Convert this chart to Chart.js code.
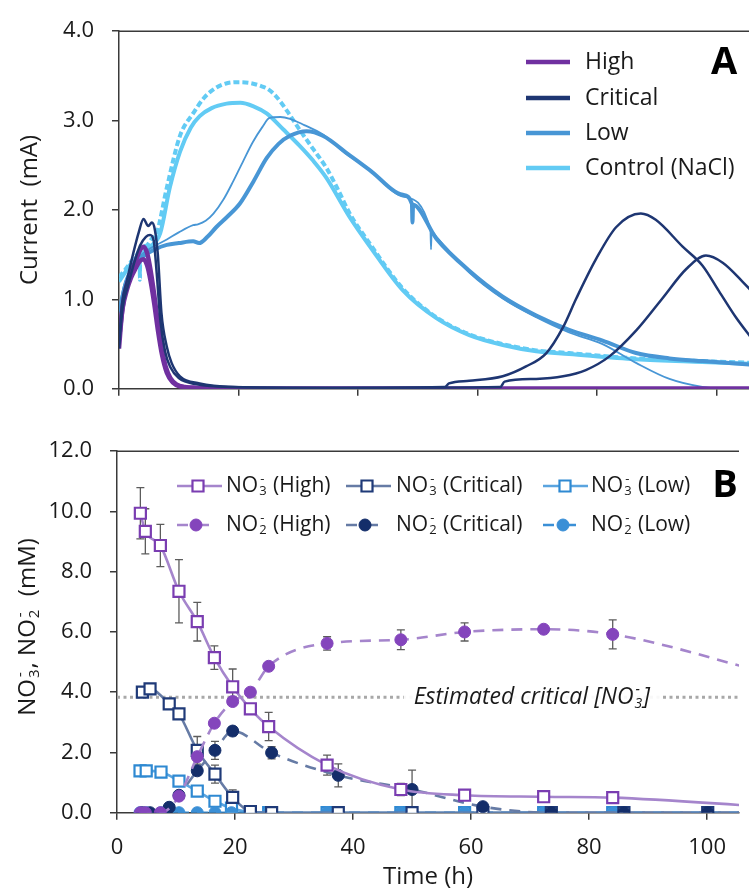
<!DOCTYPE html>
<html>
<head>
<meta charset="utf-8">
<title>Current and nitrate / nitrite over time</title>
<script src="https://cdn.jsdelivr.net/npm/chart.js"></script>
<style>
  html, body { margin: 0; padding: 0; background: #fff; }
  #wrap { position: relative; width: 749px; height: 892px; }
  canvas { position: absolute; left: 0; }
  #chartA { top: 0; }
  #chartB { top: 420px; }
</style>
</head>
<body>
<div id="wrap">
  <canvas id="chartA" width="749" height="420"></canvas>
  <canvas id="chartB" width="749" height="472"></canvas>
</div>
<script>
// ---------------- DATA ----------------

const X_MAX = 105.4;
const xTicks = [0, 20, 40, 60, 80, 100];
const yTicksA = [0, 1, 2, 3, 4];
const yTicksB = [0, 2, 4, 6, 8, 10, 12];

// Panel A - current traces (h, mA), two replicates per condition
const highT1 = [0, 0.5, 1, 1.7, 2.4, 3, 3.6, 4.1, 4.7, 5.3, 5.9, 6.5, 7.1, 7.8, 8.6, 9.6, 11, 13, 20, 106];
const highA1 = [0.45, 0.85, 1.08, 1.25, 1.37, 1.47, 1.56, 1.59, 1.52, 1.32, 1.05, 0.74, 0.46, 0.25, 0.12, 0.05, 0.02, 0.01, 0, 0];
const highT2 = [0, 0.6, 1.3, 2, 2.8, 3.5, 4.1, 4.7, 5.3, 5.9, 6.5, 7.2, 8, 9, 10.5, 13, 20, 106];
const highA2 = [0.55, 0.9, 1.1, 1.24, 1.35, 1.43, 1.45, 1.38, 1.2, 0.95, 0.66, 0.38, 0.18, 0.07, 0.02, 0.01, 0, 0];

const critT1 = [0, 0.5, 1.3, 2.4, 3.3, 4.1, 4.9, 5.5, 6, 6.5, 7.1, 8, 8.8, 10.2, 13.5, 19, 30, 54.5, 55.2, 58.6, 64.2, 68.1, 71.5, 74.3, 76.5, 79.8, 83.2, 87.3, 89.8, 94.3, 97.6, 100.4, 103.2, 106];
const critA1 = [0.5, 0.95, 1.2, 1.52, 1.75, 1.9, 1.82, 1.86, 1.78, 1.5, 0.85, 0.47, 0.29, 0.14, 0.06, 0.02, 0.01, 0.02, 0.06, 0.09, 0.14, 0.25, 0.4, 0.69, 1.01, 1.45, 1.81, 1.96, 1.89, 1.59, 1.38, 1.09, 0.8, 0.55];
const critT2 = [0, 0.6, 1.5, 2.5, 3.5, 4.5, 5.2, 5.8, 6.3, 6.9, 7.7, 8.6, 10, 13, 19, 40, 63.8, 64.5, 69.8, 74.3, 78.1, 82, 86.5, 90.9, 94.9, 98.2, 101, 104.3, 106];
const critA2 = [0.45, 0.9, 1.15, 1.4, 1.6, 1.7, 1.72, 1.66, 1.3, 0.78, 0.42, 0.24, 0.12, 0.05, 0.02, 0.01, 0.02, 0.08, 0.11, 0.14, 0.21, 0.36, 0.65, 1.01, 1.34, 1.49, 1.41, 1.2, 1.08];

const lowT1 = [0, 1, 2, 3, 4.1, 6, 8, 10, 12.4, 13.2, 14.5, 15.8, 17.5, 19.1, 20.8, 22.4, 24, 25.2, 27, 28.6, 31, 34, 38, 41.9, 47.5, 52.1, 52.2, 52.3, 53.1, 58.6, 64.2, 69.8, 75.3, 80.9, 86.5, 92.1, 97.6, 101, 106];
const lowA1 = [0.9, 1.2, 1.35, 1.45, 1.52, 1.6, 1.67, 1.75, 1.83, 1.84, 1.88, 1.96, 2.12, 2.32, 2.55, 2.76, 2.93, 3.03, 3.04, 3.02, 2.95, 2.85, 2.63, 2.45, 2.15, 1.78, 1.56, 1.76, 1.7, 1.3, 1.01, 0.8, 0.63, 0.5, 0.29, 0.11, 0.02, 0, 0];
const lowT2 = [0, 1, 2, 3, 4, 6, 8, 10, 12.4, 13.4, 14.8, 16.3, 18.2, 20.2, 22.5, 24.7, 26.7, 28.6, 31.4, 34.1, 38.6, 41.9, 47.5, 49, 49.1, 49.2, 53.1, 58.6, 64.2, 69.8, 75.3, 80.9, 86.5, 92.1, 97.6, 106];
const lowA2 = [0.85, 1.15, 1.3, 1.4, 1.48, 1.56, 1.61, 1.63, 1.65, 1.63, 1.7, 1.81, 1.93, 2.07, 2.32, 2.58, 2.74, 2.83, 2.88, 2.83, 2.61, 2.45, 2.17, 2.07, 1.86, 2.06, 1.68, 1.32, 1.03, 0.82, 0.66, 0.54, 0.4, 0.34, 0.31, 0.27];

const ctrlT1 = [0, 1, 2, 3, 3.45, 3.5, 3.55, 4.5, 5.5, 6.3, 8, 10.2, 12.4, 14.3, 16.3, 18.2, 20.2, 22, 23.6, 25, 26.3, 28.2, 30.2, 32.5, 34.7, 36.7, 38.6, 41.9, 47.5, 53.1, 58.6, 64.2, 69.8, 75.3, 86.5, 97.6, 106];
const ctrlA1 = [1.25, 1.33, 1.42, 1.5, 1.55, 1.22, 1.55, 1.6, 1.68, 1.74, 2.25, 2.83, 3.08, 3.26, 3.37, 3.42, 3.43, 3.42, 3.39, 3.35, 3.27, 3.1, 2.9, 2.68, 2.47, 2.22, 1.96, 1.63, 1.12, 0.8, 0.61, 0.5, 0.43, 0.4, 0.34, 0.31, 0.29];
const ctrlT2 = [0, 1, 2, 3, 4, 5, 6.9, 8.5, 10.2, 12, 13.5, 15.5, 18, 20.3, 22.5, 24.7, 27.5, 30.2, 32.5, 34.7, 38.6, 41.9, 47.5, 53.1, 58.6, 64.2, 69.8, 75.3, 86.5, 97.6, 106];
const ctrlA2 = [1.2, 1.3, 1.4, 1.48, 1.52, 1.58, 1.74, 2.25, 2.65, 2.92, 3.05, 3.14, 3.19, 3.2, 3.16, 3.08, 2.9, 2.72, 2.55, 2.36, 1.92, 1.6, 1.1, 0.79, 0.6, 0.49, 0.42, 0.39, 0.33, 0.3, 0.28];

// Panel B - sampled concentrations (h, mM) with standard deviations
const highT = [3.96, 4.8, 7.35, 10.5, 13.6, 16.5, 19.6, 22.6, 25.7, 35.6, 48.1, 58.9, 72.3, 84.0, 110];
const no3High = [9.94, 9.34, 8.87, 7.35, 6.34, 5.15, 4.18, 3.45, 2.86, 1.58, 0.77, 0.58, 0.53, 0.5, 0.2];
const no3HighErr = [0.85, 0.75, 0.7, 1.05, 0.64, 0.39, 0.59, 0, 0.47, 0.33, 0.2, 0, 0, 0.05, 0];
const no2High = [0, 0, 0, 0.55, 1.86, 2.97, 3.69, 4.0, 4.86, 5.62, 5.74, 6.0, 6.09, 5.92, 4.65];
const no2HighErr = [0, 0, 0, 0, 0.1, 0.12, 0.12, 0, 0.1, 0.22, 0.33, 0.3, 0.08, 0.48, 0];

const critT = [4.3, 5.6, 8.85, 10.5, 13.6, 16.6, 19.6, 22.6, 26.2, 37.5, 50.0, 62.0, 73.6, 85.9, 100.1, 110];
const no3Crit = [4.0, 4.11, 3.61, 3.28, 2.07, 1.28, 0.51, 0.04, 0, 0, 0, 0, 0, 0, 0, 0];
const no3CritErr = [0, 0, 0, 0, 0.46, 0.3, 0.25, 0, 0, 0, 0, 0, 0, 0, 0, 0];
const no2Crit = [0, 0, 0.18, 0.58, 1.39, 2.07, 2.71, null, 1.99, 1.24, 0.77, 0.2, 0, 0, 0, 0];
const no2CritErr = [0, 0, 0, 0.1, 0.15, 0.3, 0.15, 0, 0.2, 0.38, 0.64, 0, 0, 0, 0, 0];

const lowT = [3.9, 4.95, 7.46, 10.5, 13.6, 16.6, 19.4, 22.6, 25.7, 35.6, 48.1, 58.9, 72.3, 84.0, 110];
const no3Low = [1.39, 1.39, 1.35, 1.05, 0.72, 0.38, 0.15, 0.02, 0, 0, 0, 0, 0, 0, 0];
const no3LowErr = [0, 0, 0, 0.1, 0.08, 0.18, 0.1, 0, 0, 0, 0, 0, 0, 0, 0];
const no2Low = [0, 0, 0, 0, 0, 0, 0, 0, 0, 0, 0, 0, 0, 0, 0];

const critLevel = 3.83;   // estimated critical nitrate
const critSpan = [0, 110];

// ---------------- STYLE ----------------

const FONT = "'Open Sans', 'Noto Sans', sans-serif";
const TXT = '#1a1a1a';
const AXIS = '#3a3a3a';

const C_HIGH = '#7030A0';
const C_CRIT = '#1E3672';
const C_LOW = '#4896D5';
const C_CTRL = '#62CBF4';

const pts = (ts, vs) => ts.map((t, i) => ({ x: t, y: vs[i] }));

function trace(label, ts, vs, color, width, dash) {
  return {
    label, data: pts(ts, vs),
    borderColor: color, borderWidth: width, borderDash: dash || [],
    borderJoinStyle: 'round', pointRadius: 0,
    cubicInterpolationMode: 'monotone', fill: false
  };
}

function xScale(showLabels, height, title) {
  return {
    type: 'linear', min: 0, max: X_MAX,
    afterBuildTicks: ax => { ax.ticks = xTicks.map(v => ({ value: v })); },
    afterFit: ax => { ax.height = height; },
    grid: { drawOnChartArea: false, drawTicks: true, tickLength: 7, color: AXIS, lineWidth: 1.5 },
    border: { color: AXIS, width: 1.5 },
    ticks: { display: showLabels, padding: 15, color: TXT, font: { family: FONT, size: 22 } },
    title: title ? { display: true, text: title, color: TXT, font: { family: FONT, size: 24 }, padding: { top: 0, bottom: 0 } } : { display: false }
  };
}

function yScale(max, ticks, width, title) {
  return {
    type: 'linear', min: 0, max,
    afterBuildTicks: ax => { ax.ticks = ticks.map(v => ({ value: v })); },
    afterFit: ax => { ax.width = width; },
    grid: { drawOnChartArea: false, drawTicks: true, tickLength: 7, color: AXIS, lineWidth: 1.5 },
    border: { color: AXIS, width: 1.5 },
    ticks: { padding: 18, color: TXT, font: { family: FONT, size: 22 }, callback: v => Number(v).toFixed(1) },
    title: title ? { display: true, text: title, color: TXT, font: { family: FONT, size: 24 }, padding: { top: 16, bottom: 0 } } : { display: false }
  };
}

// text with stacked sub/superscripts, e.g. NO3-
function richRun(ctx, parts, x, y, size, style, draw) {
  let cx = x;
  for (const p of parts) {
    if (p.t !== undefined) {
      ctx.font = `${style} ${size}px ${FONT}`;
      if (draw) ctx.fillText(p.t, cx, y);
      cx += ctx.measureText(p.t).width;
    } else {
      const s = Math.round(size * 0.62);
      ctx.font = `${style} ${s}px ${FONT}`;
      const w1 = ctx.measureText(p.sub || '').width;
      const w2 = ctx.measureText(p.sup || '').width;
      if (draw) {
        if (p.sub) ctx.fillText(p.sub, cx + 1, y + size * 0.27);
        if (p.sup) ctx.fillText(p.sup, cx + 2, y - size * 0.3);
      }
      cx += Math.max(w1, w2) + 2;
    }
  }
  return cx - x;
}

function topBorder(chart) {
  const { ctx, chartArea: a } = chart;
  ctx.save();
  ctx.strokeStyle = AXIS;
  ctx.lineWidth = 1.5;
  ctx.beginPath();
  ctx.moveTo(a.left, a.top);
  ctx.lineTo(a.right, a.top);
  ctx.stroke();
  ctx.restore();
}

function panelLetter(ctx, letter, x, y) {
  ctx.save();
  ctx.fillStyle = '#000';
  ctx.font = `bold 38px ${FONT}`;
  ctx.textAlign = 'center';
  ctx.textBaseline = 'middle';
  ctx.fillText(letter, x, y);
  ctx.restore();
}

// ---------------- PANEL A ----------------

const legendA = [
  { label: 'High', color: C_HIGH },
  { label: 'Critical', color: C_CRIT },
  { label: 'Low', color: C_LOW },
  { label: 'Control (NaCl)', color: C_CTRL }
];

const panelAPlugin = {
  id: 'panelA',
  afterDraw(chart) {
    const ctx = chart.ctx;
    topBorder(chart);
    ctx.save();
    ctx.textBaseline = 'middle';
    ctx.font = `23px ${FONT}`;
    ctx.fillStyle = TXT;
    const rows = [62, 98, 133, 168];
    legendA.forEach((item, i) => {
      ctx.strokeStyle = item.color;
      ctx.lineWidth = 4.5;
      ctx.beginPath();
      ctx.moveTo(526, rows[i]);
      ctx.lineTo(570, rows[i]);
      ctx.stroke();
      ctx.fillText(item.label, 585, rows[i]);
    });
    ctx.restore();
    panelLetter(ctx, 'A', 724, 63);
  }
};

new Chart(document.getElementById('chartA'), {
  type: 'line',
  data: {
    datasets: [
      trace('Critical', critT1, critA1, C_CRIT, 2.5),
      trace('Critical', critT2, critA2, C_CRIT, 2.5),
      trace('High', highT1, highA1, C_HIGH, 4.5),
      trace('High', highT2, highA2, C_HIGH, 4.5),
      trace('Low', lowT1, lowA1, C_LOW, 1.8),
      trace('Low', lowT2, lowA2, C_LOW, 4),
      trace('Control (NaCl)', ctrlT1, ctrlA1, C_CTRL, 4, [6, 3]),
      trace('Control (NaCl)', ctrlT2, ctrlA2, C_CTRL, 4)
    ]
  },
  options: {
    responsive: false,
    animation: false,
    devicePixelRatio: 1,
    layout: { padding: { top: 26, right: 0, bottom: 0, left: 0 } },
    plugins: { legend: { display: false }, tooltip: { enabled: false } },
    scales: {
      x: xScale(false, 27),
      y: yScale(4, yTicksA, 119, 'Current  (mA)')
    }
  },
  plugins: [panelAPlugin]
});

// ---------------- PANEL B ----------------

function series(label, ts, vs, errs, o) {
  return {
    label, data: pts(ts, vs), errors: errs,
    borderColor: o.line, borderWidth: 2.6, borderDash: o.dash || [],
    pointStyle: o.style, pointRadius: o.r, pointHoverRadius: o.r,
    pointBorderWidth: o.bw, pointBorderColor: o.mark,
    pointBackgroundColor: o.fill,
    cubicInterpolationMode: 'monotone', spanGaps: true, fill: false
  };
}

const dsNo3High = series('NO3- (High)', highT, no3High, no3HighErr,
  { line: '#A585CC', mark: '#7A3DB1', fill: '#fff', style: 'rect', r: 7.8, bw: 2.2 });
const dsNo2High = series('NO2- (High)', highT, no2High, no2HighErr,
  { line: '#A585CC', mark: '#8445BC', fill: '#8445BC', style: 'circle', r: 6, bw: 1, dash: [11, 8] });
const dsNo3Crit = series('NO3- (Critical)', critT, no3Crit, no3CritErr,
  { line: '#667BA5', mark: '#1F3A78', fill: '#fff', style: 'rect', r: 7.8, bw: 2.2 });
const dsNo2Crit = series('NO2- (Critical)', critT, no2Crit, no2CritErr,
  { line: '#667BA5', mark: '#142E6A', fill: '#142E6A', style: 'circle', r: 6, bw: 1, dash: [11, 8] });
const dsNo3Low = series('NO3- (Low)', lowT, no3Low, no3LowErr,
  { line: '#5AA4DF', mark: '#2E89D2', fill: '#fff', style: 'rect', r: 7.8, bw: 2.2 });
const dsNo2Low = series('NO2- (Low)', lowT, no2Low, null,
  { line: '#3A8FD6', mark: '#3A8FD6', fill: '#3A8FD6', style: 'circle', r: 6, bw: 1, dash: [11, 8] });

const dsCritLine = {
  label: 'Estimated critical [NO3-]',
  data: critSpan.map(t => ({ x: t, y: critLevel })),
  borderColor: '#A8A8A8', borderWidth: 3, borderDash: [3, 3.5], pointRadius: 0, fill: false
};

const legendRowsB = [
  [
    { ds: dsNo3High, parts: [{ t: 'NO' }, { sub: '3', sup: '-' }, { t: ' (High)' }] },
    { ds: dsNo3Crit, parts: [{ t: 'NO' }, { sub: '3', sup: '-' }, { t: ' (Critical)' }] },
    { ds: dsNo3Low, parts: [{ t: 'NO' }, { sub: '3', sup: '-' }, { t: ' (Low)' }] }
  ],
  [
    { ds: dsNo2High, parts: [{ t: 'NO' }, { sub: '2', sup: '-' }, { t: ' (High)' }] },
    { ds: dsNo2Crit, parts: [{ t: 'NO' }, { sub: '2', sup: '-' }, { t: ' (Critical)' }] },
    { ds: dsNo2Low, parts: [{ t: 'NO' }, { sub: '2', sup: '-' }, { t: ' (Low)' }] }
  ]
];

function drawMarker(ctx, ds, x, y) {
  ctx.lineWidth = ds.pointBorderWidth;
  ctx.strokeStyle = ds.pointBorderColor;
  ctx.fillStyle = ds.pointBackgroundColor;
  ctx.beginPath();
  if (ds.pointStyle === 'rect') {
    const s = ds.pointRadius * Math.SQRT1_2;
    ctx.rect(x - s, y - s, 2 * s, 2 * s);
  } else {
    ctx.arc(x, y, ds.pointRadius, 0, Math.PI * 2);
  }
  ctx.fill();
  ctx.stroke();
}

const errorBars = {
  id: 'errorBars',
  beforeDatasetsDraw(chart) {
    const { ctx, chartArea: a, scales: { x, y } } = chart;
    ctx.save();
    ctx.beginPath();
    ctx.rect(a.left, a.top, a.right - a.left, a.bottom - a.top);
    ctx.clip();
    ctx.strokeStyle = '#5c5c5c';
    ctx.lineWidth = 1.3;
    chart.data.datasets.forEach(ds => {
      if (!ds.errors) return;
      ds.data.forEach((p, i) => {
        const e = ds.errors[i];
        if (!e || p.y == null) return;
        const px = x.getPixelForValue(p.x);
        const y1 = y.getPixelForValue(p.y + e);
        const y2 = y.getPixelForValue(p.y - e);
        ctx.beginPath();
        ctx.moveTo(px, y1); ctx.lineTo(px, y2);
        ctx.moveTo(px - 4, y1); ctx.lineTo(px + 4, y1);
        ctx.moveTo(px - 4, y2); ctx.lineTo(px + 4, y2);
        ctx.stroke();
      });
    });
    ctx.restore();
  }
};

const panelBPlugin = {
  id: 'panelB',
  afterDatasetsDraw(chart) {
    // label on the critical nitrate line
    const { ctx, scales: { x, y } } = chart;
    const parts = [{ t: 'Estimated critical [NO' }, { sub: '3', sup: '-' }, { t: ']' }];
    const cx = x.getPixelForValue(70.3);
    const cy = y.getPixelForValue(critLevel);
    ctx.save();
    ctx.textBaseline = 'middle';
    const w = richRun(ctx, parts, 0, 0, 23, 'italic', false);
    ctx.fillStyle = 'rgba(255,255,255,0.92)';
    ctx.fillRect(cx - w / 2 - 10, cy - 16, w + 22, 32);
    ctx.fillStyle = TXT;
    richRun(ctx, parts, cx - w / 2, cy, 23, 'italic', true);
    ctx.restore();
  },
  afterDraw(chart) {
    const { ctx, chartArea: a } = chart;
    topBorder(chart);

    // legend: line stub, marker, label
    const cols = [
      { x0: 177, x1: 222, mx: 198, tx: 226 },
      { x0: 346, x1: 391, mx: 367, tx: 396 },
      { x0: 543, x1: 588, mx: 565, tx: 591 }
    ];
    const rows = [66, 105];
    ctx.save();
    ctx.textBaseline = 'middle';
    legendRowsB.forEach((row, r) => {
      row.forEach((item, c) => {
        const col = cols[c], yy = rows[r], ds = item.ds;
        ctx.strokeStyle = ds.borderColor;
        ctx.lineWidth = 2.6;
        ctx.beginPath();
        if (ds.borderDash.length) {
          const mx = col.mx - 2;
          ctx.moveTo(col.x0, yy); ctx.lineTo(col.x0 + 11, yy);
          ctx.moveTo(mx, yy); ctx.lineTo(mx + 13, yy);
          ctx.stroke();
          drawMarker(ctx, ds, mx, yy);
        } else {
          ctx.moveTo(col.x0, yy); ctx.lineTo(col.x1, yy);
          ctx.stroke();
          drawMarker(ctx, ds, col.mx, yy);
        }
        ctx.fillStyle = TXT;
        richRun(ctx, item.parts, col.tx, yy, 21, 'normal', true);
      });
    });

    // rotated y title
    const title = [{ t: 'NO' }, { sub: '3', sup: '-' }, { t: ', NO' }, { sub: '2', sup: '-' }, { t: '  (mM)' }];
    const tw = richRun(ctx, title, 0, 0, 24, 'normal', false);
    ctx.translate(28, (a.top + a.bottom) / 2 - 5);
    ctx.rotate(-Math.PI / 2);
    ctx.fillStyle = TXT;
    richRun(ctx, title, -tw / 2, 0, 24, 'normal', true);
    ctx.restore();

    panelLetter(ctx, 'B', 725, 66);
  }
};

new Chart(document.getElementById('chartB'), {
  type: 'line',
  data: {
    datasets: [dsNo2High, dsNo3High, dsNo2Crit, dsNo3Crit, dsNo2Low, dsNo3Low, dsCritLine]
  },
  options: {
    responsive: false,
    animation: false,
    devicePixelRatio: 1,
    layout: { padding: { top: 29.3, right: 0, bottom: 0, left: 0 } },
    plugins: { legend: { display: false }, tooltip: { enabled: false } },
    scales: {
      x: xScale(true, 79.3, 'Time (h)'),
      y: yScale(12, yTicksB, 117, null)
    }
  },
  plugins: [errorBars, panelBPlugin]
});
</script>
</body>
</html>
